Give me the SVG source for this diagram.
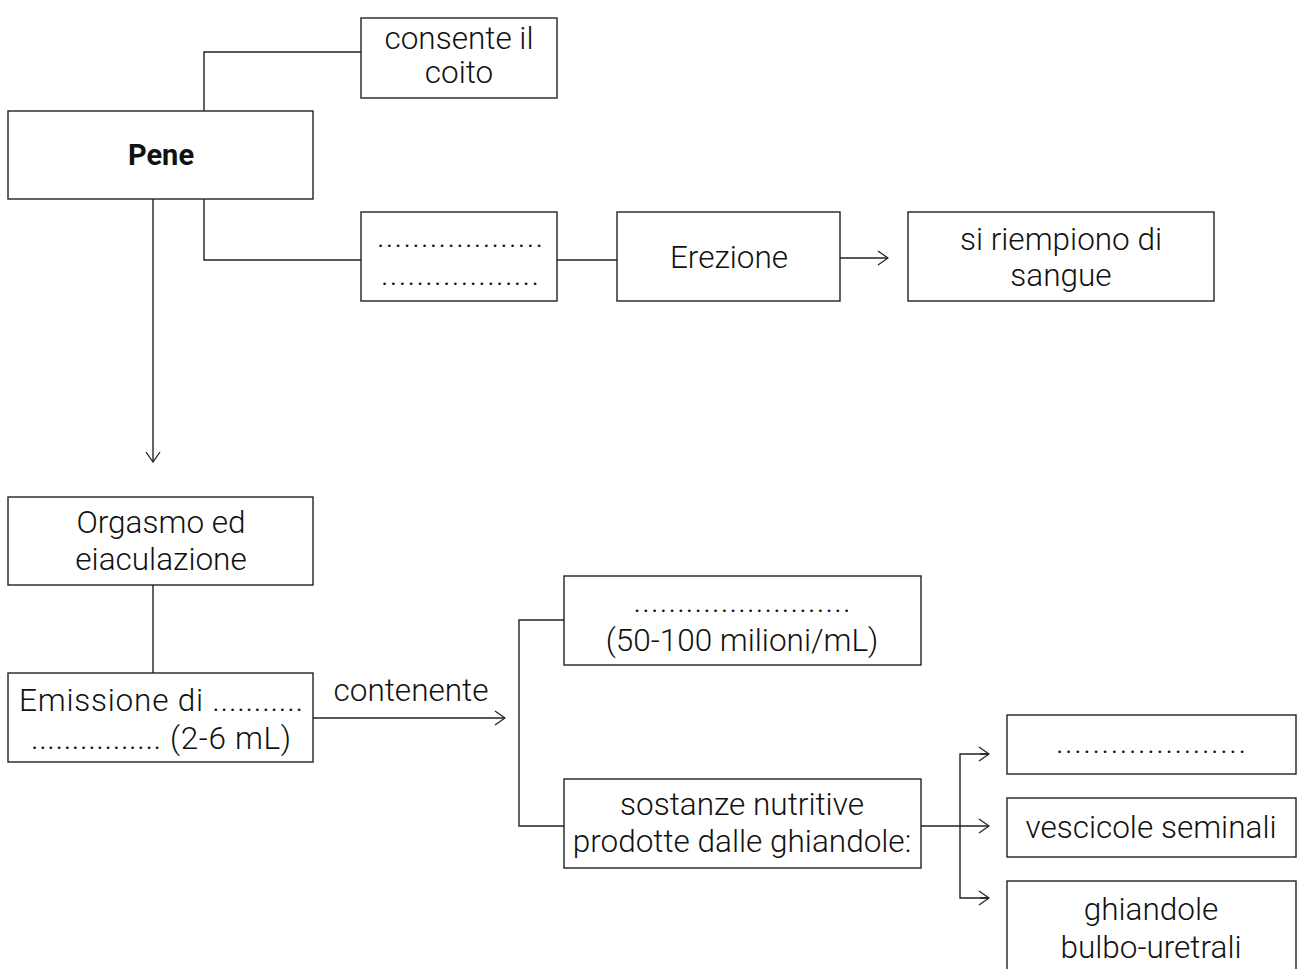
<svg xmlns="http://www.w3.org/2000/svg" width="1304" height="969" viewBox="0 0 1304 969">
<style>
.box{fill:#fff;stroke:#222;stroke-width:1.4}
.ln{fill:none;stroke:#222;stroke-width:1.4}
text{font-family:Roboto,"Liberation Sans",sans-serif;font-weight:300;font-size:31.5px;fill:#111;text-anchor:middle;dominant-baseline:central}
.b{font-weight:700;font-size:29px}
</style>
<defs>
<marker id="ah" viewBox="0 0 12 16" refX="11" refY="8" markerWidth="12" markerHeight="16" markerUnits="userSpaceOnUse" orient="auto">
<path d="M1,1 L11,8 L1,15" fill="none" stroke="#222" stroke-width="1.3"/>
</marker>
</defs>
<g id="connectors">
<path class="ln" d="M204,111 V52 H361"/>
<path class="ln" d="M204,199 V260 H361"/>
<path class="ln" d="M557,260 H617"/>
<path class="ln" d="M840,258 H888" marker-end="url(#ah)"/>
<path class="ln" d="M153,199 V462" marker-end="url(#ah)"/>
<path class="ln" d="M153,585 V673"/>
<path class="ln" d="M313,718 H505" marker-end="url(#ah)"/>
<text x="411" y="690">contenente</text>
<path class="ln" d="M564,620 H519 V826 H564"/>
<path class="ln" d="M921,826 H989" marker-end="url(#ah)"/>
<path class="ln" d="M989,754 H960 V898 H989"/>
<path class="ln" d="M980,754 H989" marker-end="url(#ah)"/>
<path class="ln" d="M980,898 H989" marker-end="url(#ah)"/>
</g>
<g id="n-coito"><rect class="box" x="361" y="18" width="196" height="80"/><text x="459" y="38">consente il</text><text x="459" y="72">coito</text></g>
<g id="n-pene"><rect class="box" x="8" y="111" width="305" height="88"/><text class="b" x="161" y="155">Pene</text></g>
<g id="n-blank1"><rect class="box" x="361" y="212" width="196" height="89"/><text x="460" y="236" textLength="166" lengthAdjust="spacing">...................</text><text x="460" y="274" textLength="158" lengthAdjust="spacing">..................</text></g>
<g id="n-erezione"><rect class="box" x="617" y="212" width="223" height="89"/><text x="729" y="257">Erezione</text></g>
<g id="n-sangue"><rect class="box" x="908" y="212" width="306" height="89"/><text x="1061" y="239">si riempiono di</text><text x="1061" y="275">sangue</text></g>
<g id="n-orgasmo"><rect class="box" x="8" y="497" width="305" height="88"/><text x="161" y="522">Orgasmo ed</text><text x="161" y="559">eiaculazione</text></g>
<g id="n-emissione"><rect class="box" x="8" y="673" width="305" height="89"/><text x="161" y="700" textLength="284" lengthAdjust="spacing">Emissione di ...........</text><text x="161" y="738" textLength="260" lengthAdjust="spacing">................ (2-6 mL)</text></g>
<g id="n-spermatozoi"><rect class="box" x="564" y="576" width="357" height="89"/><text x="742" y="601" textLength="217" lengthAdjust="spacing">.........................</text><text x="742" y="640">(50-100 milioni/mL)</text></g>
<g id="n-sostanze"><rect class="box" x="564" y="779" width="357" height="89"/><text x="742" y="804">sostanze nutritive</text><text x="742" y="841">prodotte dalle ghiandole:</text></g>
<g id="n-blank2"><rect class="box" x="1007" y="715" width="289" height="59"/><text x="1151" y="742" textLength="190" lengthAdjust="spacing">.....................</text></g>
<g id="n-vescicole"><rect class="box" x="1007" y="798" width="289" height="59"/><text x="1151" y="827">vescicole seminali</text></g>
<g id="n-bulbo"><rect class="box" x="1007" y="881" width="289" height="100"/><text x="1151" y="909">ghiandole</text><text x="1151" y="947">bulbo-uretrali</text></g>
</svg>
